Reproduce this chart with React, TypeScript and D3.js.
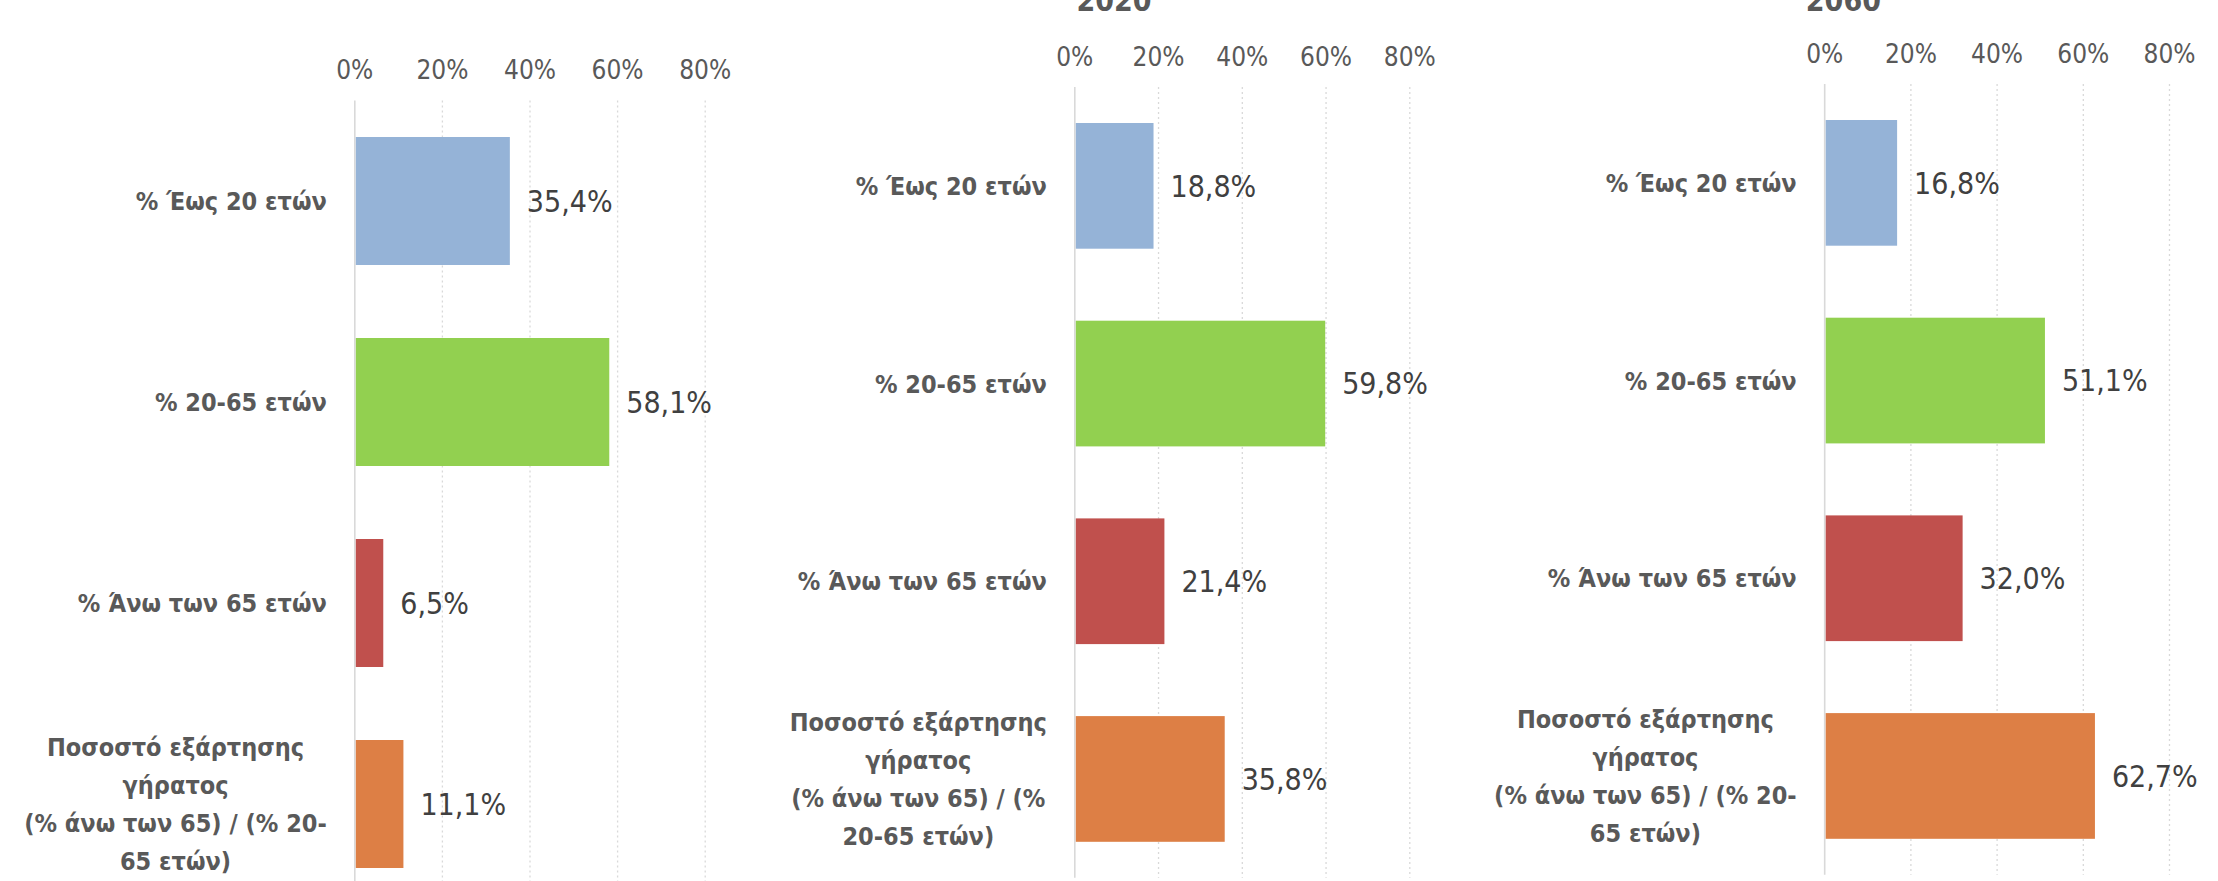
import React, { useEffect, useRef } from "react";
import * as d3 from "d3";

// ---------- data ----------
const categories = [
  "% Έως 20 ετών",
  "% 20-65 ετών",
  "% Άνω των 65 ετών",
  "Ποσοστό εξάρτησης γήρατος (% άνω των 65) / (% 20-65 ετών)",
];
const labelLinesWide = [
  ["% Έως 20 ετών"],
  ["% 20-65 ετών"],
  ["% Άνω των 65 ετών"],
  ["Ποσοστό εξάρτησης", "γήρατος", "(% άνω των 65) / (% 20-", "65 ετών)"],
];
const labelLinesNarrow = [
  ["% Έως 20 ετών"],
  ["% 20-65 ετών"],
  ["% Άνω των 65 ετών"],
  ["Ποσοστό εξάρτησης", "γήρατος", "(% άνω των 65) / (%", "20-65 ετών)"],
];
const panelTitles = ["", "2020", "2060"];
const valuesPanel1 = [0.354, 0.581, 0.065, 0.111];
const values2020 = [0.188, 0.598, 0.214, 0.358];
const values2060 = [0.168, 0.511, 0.32, 0.627];
const tickValues = [0, 0.2, 0.4, 0.6, 0.8];
const barColors = ["#95B3D7", "#92D050", "#C0504D", "#DD7F45"];

// ---------- layout ----------
const W = 2218;
const H = 881;
const panels = [
  { values: valuesPanel1, lines: labelLinesWide, title: panelTitles[0], x0: 354.8, x1: 705.2, top: 100.5, step: 201, bar: 128, tickY: 70, titleX: 0 },
  { values: values2020, lines: labelLinesNarrow, title: panelTitles[1], x0: 1074.8, x1: 1409.8, top: 87, step: 197.7, bar: 125.7, tickY: 56.7, titleX: 1114 },
  { values: values2060, lines: labelLinesWide, title: panelTitles[2], x0: 1824.7, x1: 2169.5, top: 84, step: 197.7, bar: 125.7, tickY: 53.3, titleX: 1843.4 },
];

const FONT = "'DejaVu Sans Condensed', 'DejaVu Sans', sans-serif";
const TEXT_GRAY = "#595959";
const VALUE_GRAY = "#404040";
const GRID = "#D9D9D9";

const greek = d3.formatLocale({
  decimal: ",",
  thousands: ".",
  grouping: [3],
  currency: ["€", ""],
  percent: "%",
});
const fmtValue = greek.format(".1%");
const fmtTick = greek.format(".0%");

export default function App() {
  const ref = useRef<SVGSVGElement | null>(null);

  useEffect(() => {
    const svg = d3.select(ref.current);
    svg.selectAll("*").remove();

    panels.forEach((p) => {
      const g = svg.append("g");
      const x = d3.scaleLinear().domain([0, 0.8]).range([p.x0, p.x1]);
      const bandPad = (p.step - p.bar) / p.step;
      const y = d3
        .scaleBand<number>()
        .domain(d3.range(categories.length))
        .range([p.top, p.top + p.step * categories.length])
        .paddingInner(bandPad)
        .paddingOuter(bandPad / 2);
      const yBottom = p.top + p.step * categories.length;

      // grid lines
      g.selectAll("line.grid")
        .data(tickValues.filter((t) => t > 0))
        .join("line")
        .attr("x1", (d) => x(d))
        .attr("x2", (d) => x(d))
        .attr("y1", p.top)
        .attr("y2", yBottom)
        .attr("stroke", GRID)
        .attr("stroke-width", 1.3)
        .attr("stroke-dasharray", "2,3");

      // axis line at 0
      g.append("line")
        .attr("x1", x(0))
        .attr("x2", x(0))
        .attr("y1", p.top)
        .attr("y2", yBottom)
        .attr("stroke", GRID)
        .attr("stroke-width", 1.6);

      // tick labels
      g.selectAll("text.tick")
        .data(tickValues)
        .join("text")
        .attr("x", (d) => x(d))
        .attr("y", p.tickY)
        .attr("dy", "0.36em")
        .attr("text-anchor", "middle")
        .attr("font-family", FONT)
        .style("font-stretch", "condensed")
        .attr("font-size", 26)
        .attr("fill", TEXT_GRAY)
        .text((d) => fmtTick(d));

      // bars
      g.selectAll("rect.bar")
        .data(p.values)
        .join("rect")
        .attr("x", x(0) + 1)
        .attr("y", (_d, i) => y(i) as number)
        .attr("width", (d) => x(d) - x(0) - 1)
        .attr("height", y.bandwidth())
        .attr("fill", (_d, i) => barColors[i]);

      // value labels
      g.selectAll("text.val")
        .data(p.values)
        .join("text")
        .attr("x", (d) => x(d) + 17)
        .attr("y", (_d, i) => (y(i) as number) + y.bandwidth() / 2)
        .attr("dy", "0.36em")
        .attr("font-family", FONT)
        .style("font-stretch", "condensed")
        .attr("font-size", 30)
        .attr("fill", VALUE_GRAY)
        .text((d) => fmtValue(d));

      // category labels
      const lineH = 37.8;
      p.lines.forEach((lines, i) => {
        const cy = (y(i) as number) + y.bandwidth() / 2;
        const tg = g.append("g");
        const texts = tg
          .selectAll("text")
          .data(lines)
          .join("text")
          .attr("y", (_d, k) => cy + (k - (lines.length - 1) / 2) * lineH)
          .attr("dy", "0.36em")
          .attr("text-anchor", "middle")
          .attr("font-family", FONT)
          .style("font-stretch", "condensed")
          .attr("font-weight", "bold")
          .attr("font-size", 25)
          .attr("fill", TEXT_GRAY)
          .text((d) => d);
        let maxW = 0;
        texts.each(function () {
          maxW = Math.max(maxW, (this as SVGTextElement).getComputedTextLength());
        });
        const right = x(0) - 28;
        texts.attr("x", right - maxW / 2);
      });

      // panel title
      if (p.title) {
        g.append("text")
          .attr("x", p.titleX)
          .attr("y", 11)
          .attr("text-anchor", "middle")
          .attr("font-family", FONT)
          .style("font-stretch", "condensed")
          .attr("font-weight", "bold")
          .attr("font-size", 30)
          .attr("fill", TEXT_GRAY)
          .text(p.title);
      }
    });
  }, []);

  return (
    <svg
      ref={ref}
      width={W}
      height={H}
      style={{ position: "absolute", left: 0, top: 0, background: "#fff", overflow: "hidden" }}
    />
  );
}
